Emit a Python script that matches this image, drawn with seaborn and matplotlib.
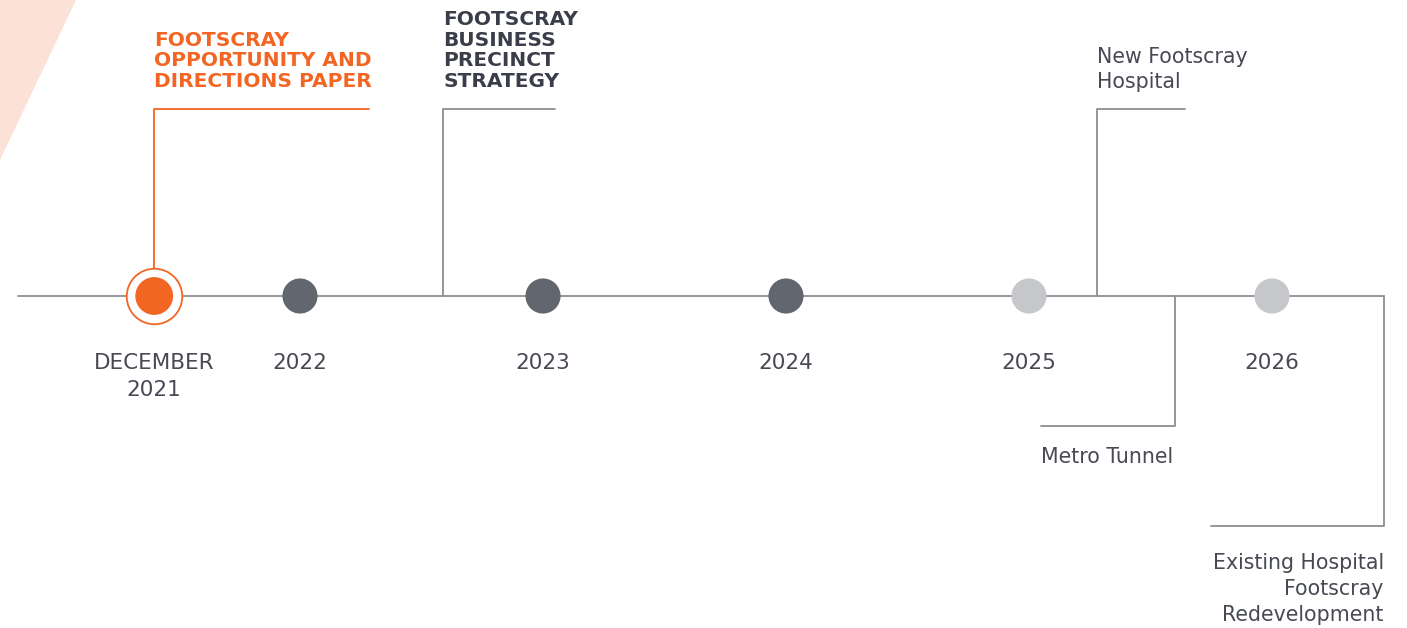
import numpy as np
import pandas as pd
import matplotlib.pyplot as plt
import seaborn as sns

# Timeline milestones (position in years)
milestone_year = [2021.4, 2022, 2023, 2024, 2025, 2026]
milestone_label = ["DECEMBER\n2021", "2022", "2023", "2024", "2025", "2026"]
milestone_status = ["current", "past", "past", "past", "future", "future"]

# Events hanging off the timeline
event_name = [
    "FOOTSCRAY\nOPPORTUNITY AND\nDIRECTIONS PAPER",
    "FOOTSCRAY\nBUSINESS\nPRECINCT\nSTRATEGY",
    "New Footscray\nHospital",
    "Metro Tunnel",
    "Existing Hospital\nFootscray\nRedevelopment",
]
event_year = [2021.4, 2022.59, 2025.28, 2025.6, 2026.46]
event_height = [187, 187, 187, -130, -230]
event_arm = [0.885, 0.46, 0.36, -0.55, -0.71]
event_style = ["current", "past", "plain", "plain", "plain"]

timeline_start = 2020.84
timeline_end = 2026.46

ORANGE = "#f26522"
DARK = "#3b3e4a"
DOT_DARK = "#62666f"
DOT_LIGHT = "#c6c7ca"
LINE = "#8c8e94"
TEXT = "#474a53"

sns.set_theme(style="white")
plt.rcParams["font.family"] = ["DejaVu Sans"]

fig = plt.figure(figsize=(14.07, 6.28), dpi=100)
ax = fig.add_axes([0, 0, 1, 1])
ax.set_xlim(2022 - 300 / 243, 2022 + 1107 / 243)
ax.set_ylim(-332, 296)
ax.axis("off")

# decorative pale wedge top-left
fig.patches.append(plt.Polygon([(0, 1), (76 / 1407, 1), (0, 1 - 160 / 628)],
                               closed=True, transform=fig.transFigure,
                               facecolor="#fce1d6", edgecolor="none", zorder=0))

# main line
ax.plot([timeline_start, timeline_end], [0, 0], color=LINE, lw=1.3, zorder=1)

# event connectors and labels
for name, x, h, arm, st in zip(event_name, event_year, event_height, event_arm, event_style):
    col = ORANGE if st == "current" else LINE
    ax.plot([x, x, x + arm], [0, h, h], color=col, lw=1.3, zorder=1)
    if h > 0:
        if st == "plain":
            ax.text(x, h + 17, name, ha="left", va="bottom", fontsize=14.8,
                    color=TEXT, linespacing=1.3)
        else:
            ax.text(x, h + 18, name, ha="left", va="bottom", fontsize=14.5,
                    fontweight="bold", color=ORANGE if st == "current" else DARK,
                    linespacing=1.11)
    else:
        ha = "left" if arm > -0.6 else "right"
        tx = x + arm if ha == "left" else x
        ax.text(tx, h - (21 if ha == "left" else 27), name, ha=ha, va="top",
                fontsize=14.8, color=TEXT, linespacing=1.36, multialignment="right")

df = pd.DataFrame({"year": milestone_year, "y": 0, "status": milestone_status})

# ring around the current milestone
cur = df[df["status"] == "current"]
ax.scatter(cur["year"], cur["y"], s=1600, facecolor="white", edgecolor=ORANGE,
           linewidth=1.3, zorder=3)

sns.scatterplot(data=df, x="year", y="y", hue="status", size="status",
                palette={"current": ORANGE, "past": DOT_DARK, "future": DOT_LIGHT},
                sizes={"current": 740, "past": 640, "future": 640},
                linewidth=0, legend=False, ax=ax, zorder=4)

for x, lab in zip(milestone_year, milestone_label):
    ax.text(x, -57, lab, ha="center", va="top", fontsize=15.5,
            color=TEXT, linespacing=1.45)

fig.savefig("out.png", dpi=100)
